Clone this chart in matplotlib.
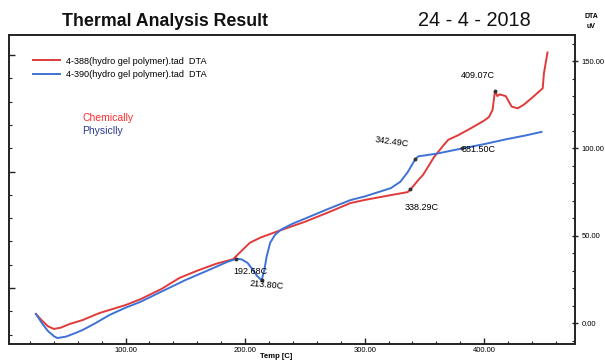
import matplotlib.pyplot as plt
import numpy as np
from matplotlib.ticker import MultipleLocator, FormatStrFormatter

# Curve data (temperature in C, DTA in uV)
chem_temp = [25, 30, 35, 40, 46, 53, 64, 78, 100, 112, 130, 145, 160, 176, 190,
             195, 204, 213, 229, 250, 270, 288, 300, 322, 336, 339, 345, 349,
             358, 365, 370, 378, 390, 400, 404, 407, 409.07, 411, 413, 418, 423,
             428, 433, 440, 449, 450, 453]
chem_dta = [5.2, 1.5, -1.8, -3.4, -2.6, -0.6, 1.7, 5.7, 10.3, 13.5, 19.5, 25.8,
            30, 34, 36.6, 40, 46, 49, 53, 58, 63.5, 68.7, 70.5, 73.3, 75, 77,
            82, 85, 95, 101, 105, 107.5, 112, 116, 118, 122, 133, 130, 131, 130,
            124, 123, 125, 129, 134.5, 143, 155]

phys_temp = [25, 30, 35, 40, 43, 50, 57, 64, 75, 86.5, 100, 112, 130, 150, 170,
             185, 192.68, 197, 202, 206, 210, 213.8, 216, 218, 221, 225, 230, 240,
             250, 270, 288, 300, 322, 330, 336, 342.49, 345, 360, 381.5, 400, 420,
             435, 448]
phys_dta = [5.2, 0, -4.5, -7.5, -8.6, -7.8, -6, -4, 0, 4.6, 8.8, 12, 18, 24.6,
            30.5, 35, 36.8, 36.5, 34.5, 31, 27, 24.5, 30, 38, 46, 50.5, 53.5, 57,
            59.8, 65.5, 70.4, 72.5, 77.3, 81, 86.4, 94, 95.5, 97, 100, 102.5,
            105.5, 107.5, 109.5]

chem_peaks = [338.29, 409.07]
phys_peaks = [192.68, 213.80, 342.49, 381.50]

legend_labels = ['4-388(hydro gel polymer).tad  DTA',
                 '4-390(hydro gel polymer).tad  DTA']

red = '#e03a3a'
blue = '#3f72d6'
narrow = ['Liberation Sans Narrow', 'Liberation Sans', 'DejaVu Sans']
plt.rcParams['font.family'] = ['Liberation Sans', 'DejaVu Sans']

fig = plt.figure(figsize=(6.05, 3.64), dpi=100)
ax = fig.add_axes([9 / 605, 20 / 364, 566 / 605, 309 / 364])

ax.plot(chem_temp, chem_dta, color=red, lw=1.4, label=legend_labels[0])
ax.plot(phys_temp, phys_dta, color=blue, lw=1.4, label=legend_labels[1])

# small event markers on the curves
ax.plot(chem_peaks, np.interp(chem_peaks, chem_temp, chem_dta), 'o',
        ms=1.8, color='#333333', zorder=3)
ax.plot(phys_peaks, np.interp(phys_peaks, phys_temp, phys_dta), 'o',
        ms=1.8, color='#333333', zorder=3)

ax.set_xlim(2.5, 476)
ax.set_ylim(-12, 165)

# unlabeled ticks on the left spine (twin axis with no data)
left = ax.twinx()
left.yaxis.tick_left()
left.set_ylim(-2.4, 10.86)
left.yaxis.set_major_locator(MultipleLocator(5))
left.yaxis.set_minor_locator(MultipleLocator(1))
left.tick_params(which='both', direction='in', labelleft=False, labelright=False,
                 color='#222222')
left.tick_params(which='major', length=4, width=1)
left.tick_params(which='minor', length=2.5, width=0.8)

ax.yaxis.tick_right()
ax.xaxis.set_major_locator(MultipleLocator(100))
ax.xaxis.set_minor_locator(MultipleLocator(20))
ax.yaxis.set_major_locator(MultipleLocator(50))
ax.yaxis.set_minor_locator(MultipleLocator(10))
ax.xaxis.set_major_formatter(FormatStrFormatter('%.2f'))
ax.yaxis.set_major_formatter(FormatStrFormatter('%.2f'))
ax.tick_params(which='both', direction='in', color='#222222', pad=2)
ax.tick_params(which='major', length=4, width=1)
ax.tick_params(which='minor', length=2.5, width=0.8)
ax.tick_params(axis='y', which='major', direction='inout', length=5,
               left=False, labelleft=False, right=True, labelright=True)
ax.tick_params(axis='y', which='minor', left=False, right=True)
for lab in ax.get_xticklabels() + ax.get_yticklabels():
    lab.set_fontfamily(narrow)
    lab.set_fontsize(5.5)

for a in (ax, left):
    for s in a.spines.values():
        s.set_linewidth(1.2)
        s.set_color('#222222')

ax.legend(loc='upper left', bbox_to_anchor=(0.042, 0.93), frameon=False,
          borderpad=0, borderaxespad=0, handlelength=3.0, handletextpad=0.6,
          labelspacing=0.45, prop={'family': narrow, 'size': 6.6})

# peak labels
ax.text(394.5, 142, '409.07C', fontsize=6.5, family=narrow, ha='center', va='center')
ax.text(323, 103.6, '342.49C', fontsize=6.5, family=narrow, ha='center', va='center',
        rotation=-8)
ax.text(395, 99.6, '381.50C', fontsize=6.5, family=narrow, ha='center', va='center')
ax.text(347.6, 66.4, '338.29C', fontsize=6.5, family=narrow, ha='center', va='center')
ax.text(204.4, 29.8, '192.68C', fontsize=6.5, family=narrow, ha='center', va='center')
ax.text(217.8, 21.8, '213.80C', fontsize=6.5, family=narrow, ha='center', va='center',
        rotation=-5)

ax.text(0.129, 0.731, 'Chemically', transform=ax.transAxes, color='#ff2a2a',
        fontsize=7.5, va='center')
ax.text(0.129, 0.689, 'Physiclly', transform=ax.transAxes, color='#2b3990',
        fontsize=7.5, va='center')

fig.text(62 / 605, 1 - 22 / 364, 'Thermal Analysis Result', fontsize=12.8,
         fontweight='bold', va='center', ha='left', color='#111111')
fig.text(531 / 605, 1 - 21 / 364, '24 - 4 - 2018', fontsize=14.3,
         va='center', ha='right', color='#111111')
fig.text(591 / 605, 1 - 17 / 364, 'DTA', fontsize=5, fontweight='bold',
         ha='center', va='center')
fig.text(591 / 605, 1 - 26 / 364, 'uV', fontsize=5, fontweight='bold',
         ha='center', va='center')
fig.text(276 / 605, 1 - 357 / 364, 'Temp [C]', fontsize=5.5, fontweight='bold',
         ha='center', va='center')

fig.savefig('out.png', dpi=100)
